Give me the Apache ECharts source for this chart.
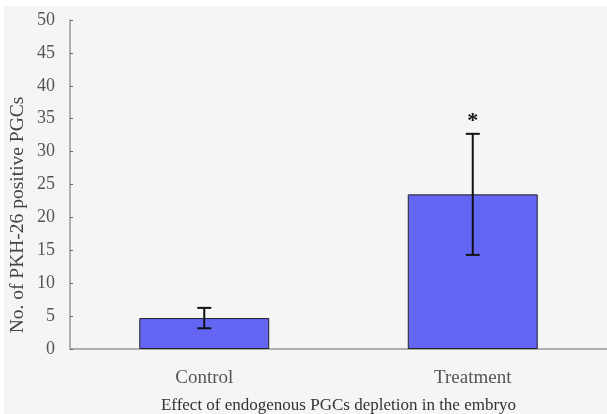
<!DOCTYPE html>
<html>
<head>
<meta charset="utf-8">
<script src="https://cdn.jsdelivr.net/npm/echarts@6/dist/echarts.min.js"></script>
<style>
html,body{margin:0;padding:0;background:#ffffff;}
#c{width:607px;height:414px;}
</style>
</head>
<body>
<div id="c"></div>
<script>
var categories = ['Control', 'Treatment'];
var means = [4.7, 23.5];
var errors = [1.55, 9.2];
var marks = ['', '*'];
var yTicks = [0, 5, 10, 15, 20, 25, 30, 35, 40, 45, 50];

var chart = echarts.init(document.getElementById('c'), null, {renderer: 'canvas'});
var serif = '"Liberation Serif", "DejaVu Serif", serif';
var errData = categories.map(function (c, i) {
  return [i, means[i] - errors[i], means[i] + errors[i], marks[i]];
});

chart.setOption({
  animation: false,
  backgroundColor: '#ffffff',
  graphic: [
    {type: 'rect', z: -10, silent: true, shape: {x: 4, y: 6, width: 603, height: 408}, style: {fill: '#f5f5f5'}},
    {type: 'text', x: 18, y: 215, rotation: Math.PI / 2,
      style: {text: 'No. of PKH-26 positive PGCs', font: '19.5px ' + serif, fill: '#444',
        textAlign: 'center', textVerticalAlign: 'middle'}}
  ],
  grid: {left: 70, right: 0, top: 20, bottom: 65, outerBoundsMode: 'none', containLabel: false},
  xAxis: {
    type: 'category',
    data: categories,
    name: 'Effect of endogenous PGCs depletion in the embryo',
    nameLocation: 'middle',
    nameGap: 48,
    nameTextStyle: {fontFamily: serif, fontSize: 17, color: '#333'},
    axisLine: {lineStyle: {color: '#999', width: 1.5}},
    axisTick: {show: false},
    axisLabel: {fontFamily: serif, fontSize: 19, color: '#555', margin: 20}
  },
  yAxis: {
    type: 'value',
    min: 0, max: 50, interval: 5,
    axisLine: {show: true, lineStyle: {color: '#999', width: 1.5}},
    axisTick: {show: true, inside: true, length: 3, lineStyle: {color: '#666'}},
    splitLine: {show: false},
    axisLabel: {fontFamily: serif, fontSize: 18, color: '#555', margin: 15,
      formatter: function (v) { return yTicks.indexOf(v) >= 0 ? String(v) : ''; }}
  },
  series: [
    {
      type: 'bar',
      data: means,
      barWidth: '48.4%',
      itemStyle: {color: '#6366f3', borderColor: '#222', borderWidth: 1}
    },
    {
      type: 'custom',
      data: errData,
      z: 10,
      renderItem: function (params, api) {
        var x = api.value(0);
        var lo = api.coord([x, api.value(1)]);
        var hi = api.coord([x, api.value(2)]);
        var w = 7;
        var st = {stroke: '#111', lineWidth: 2};
        var children = [
          {type: 'line', shape: {x1: lo[0], y1: lo[1], x2: hi[0], y2: hi[1]}, style: st},
          {type: 'line', shape: {x1: lo[0] - w, y1: lo[1], x2: lo[0] + w, y2: lo[1]}, style: st},
          {type: 'line', shape: {x1: hi[0] - w, y1: hi[1], x2: hi[0] + w, y2: hi[1]}, style: st}
        ];
        var m = api.value(3);
        if (m) {
          children.push({type: 'text', style: {text: m, x: hi[0], y: hi[1] - 2, textAlign: 'center', textVerticalAlign: 'bottom',
            font: 'bold 22px ' + serif, fill: '#111'}});
        }
        return {type: 'group', children: children};
      }
    }
  ]
});
</script>
</body>
</html>
